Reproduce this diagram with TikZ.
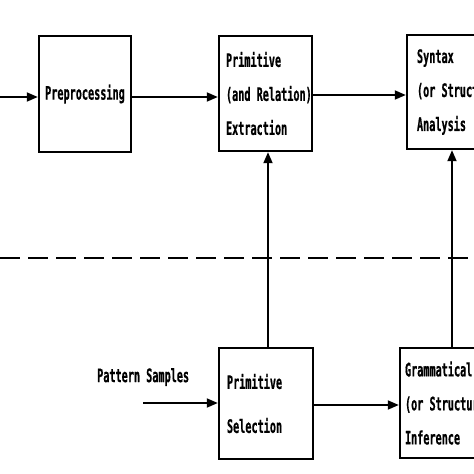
\documentclass[tikz,border=0pt]{standalone}
\usepackage{fontspec}
\newfontfamily\tw[FakeStretch=0.55,FakeBold=0.6]{DejaVu Sans Mono}
\usetikzlibrary{arrows.meta}
\tikzset{
  blk/.style={draw, line width=2.4pt, inner ysep=0pt, align=left,
    font=\tw\bfseries\fontsize{18.5}{34}\selectfont},
  arr/.style={line width=1.8pt, -{Triangle[length=11pt,width=9pt]}},
  sep/.style={line width=2.6pt, dash pattern=on 20pt off 8pt},
  lbl/.style={font=\tw\bfseries\fontsize{18.5}{20}\selectfont, inner sep=0pt}
}
\begin{document}
\begin{tikzpicture}[x=1pt,y=-1pt]
\useasboundingbox (0,0) rectangle (474,474);
\clip (0,0) rectangle (474,474);
\fill[white] (0,0) rectangle (474,474);
% boxes
\node[blk, align=center, inner xsep=4pt, text width=84pt, minimum height=116pt] (pre) at (85,94) {\mbox{Preprocessing}};
\node[blk, inner xsep=7pt, text width=79pt, minimum height=115pt] (ext) at (265.5,93.5) {\mbox{Primitive}\\\mbox{(and Relation)}\\\mbox{Extraction}};
\node[blk, inner xsep=10pt, text width=73pt, minimum height=114pt] (syn) at (453.5,92) {\mbox{Syntax}\\\mbox{(or Structural)}\\\mbox{Analysis}};
\node[blk, inner xsep=8pt, text width=78pt, minimum height=111pt] (sel) at (266,403.5) {\mbox{Primitive}\\[10pt]\mbox{Selection}};
\node[blk, inner xsep=5pt, text width=94pt, minimum height=110pt] (gra) at (452,403) {\mbox{Grammatical}\\\mbox{(or Structural)}\\\mbox{Inference}};
\node[lbl, anchor=west] (ps) at (97,377) {Pattern Samples};
% separator
\coordinate (dl) at (0,258);
\coordinate (dr) at (474,258);
\draw[sep] (dl) -- (dr);
% connectors
\coordinate (in) at (0,97);
\draw[arr] (in) -- (in -| pre.west);
\draw[arr] ([yshift=-3pt]pre.east) -- ([yshift=-3pt]pre.east -| ext.west);
\draw[arr] ([yshift=-1.5pt]ext.east) -- ([yshift=-1.5pt]ext.east -| syn.west);
\draw[arr] ([xshift=2pt]sel.north) -- ([xshift=2pt]sel.north |- ext.south);
\draw[arr] (gra.north) -- (gra.north |- syn.south);
\coordinate (psin) at (143,403);
\draw[arr] (psin) -- (psin -| sel.west);
\draw[arr] ([yshift=-1.5pt]sel.east) -- ([yshift=-1.5pt]sel.east -| gra.west);
\end{tikzpicture}
\end{document}
